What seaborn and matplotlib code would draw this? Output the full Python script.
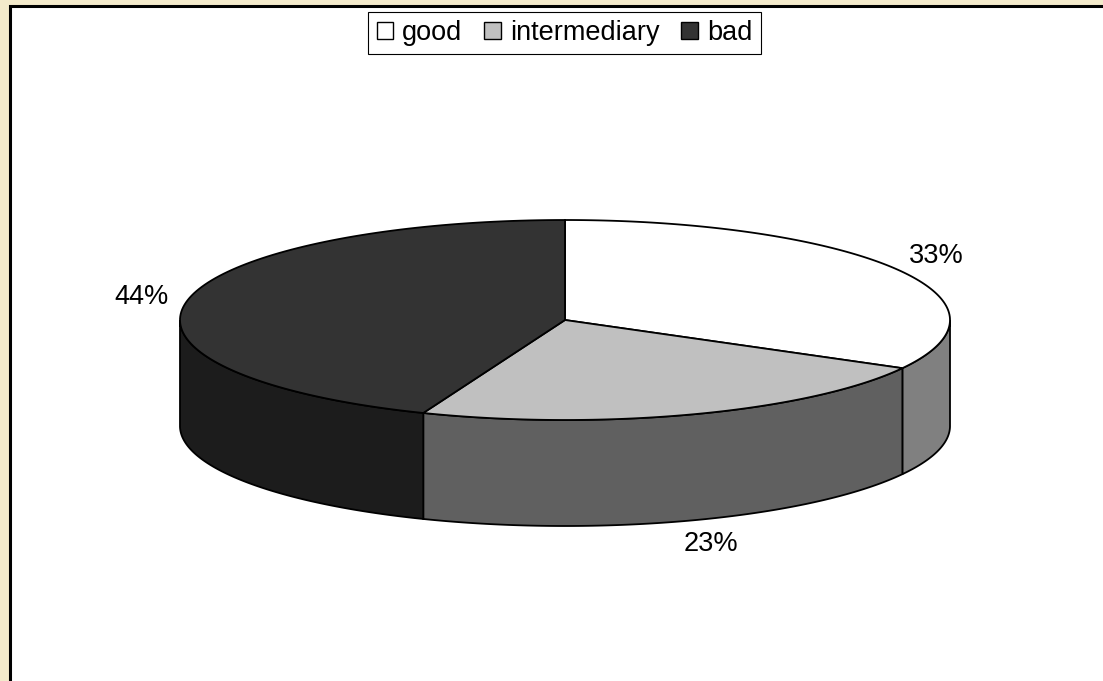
import numpy as np
import matplotlib
matplotlib.use("Agg")
import matplotlib.pyplot as plt
from matplotlib.patches import Polygon, Rectangle, Patch
import seaborn as sns

# ── Data ──────────────────────────────────────────────────────────────────────
LABELS = ["good", "intermediary", "bad"]
SHARES = [33, 23, 44]
TOP_COLORS = ["#ffffff", "#c0c0c0", "#333333"]
SIDE_COLORS = ["#808080", "#606060", "#1c1c1c"]

# ── Layout (pixels) ───────────────────────────────────────────────────────────
W, H = 1103, 681
CX, CY = 565, 320      # centre of the top face
RX, RY = 385, 100      # ellipse semi-axes
DEPTH = 106            # height of the pie wall
START = 90             # first slice starts at 12 o'clock, goes clockwise
FS = 19.5

sns.set_theme(style="white")
plt.rcParams["font.family"] = ["Liberation Sans", "DejaVu Sans"]
plt.rcParams["text.color"] = "black"

fig = plt.figure(figsize=(W / 100, H / 100), dpi=100, facecolor="#f3eacb")
ax = fig.add_axes([0, 0, 1, 1])
ax.set_xlim(0, W)
ax.set_ylim(H, 0)
ax.axis("off")

# chart area frame
ax.add_patch(Rectangle((9.5, 5.5), W + 20, H + 20, facecolor="white",
                       edgecolor="black", lw=2.2, zorder=0))


def arc(a0, a1, dz=0, n=120):
    t = np.radians(np.linspace(a0, a1, n))
    return np.column_stack([CX + RX * np.cos(t), CY - RY * np.sin(t) + dz])


fracs = np.array(SHARES) / sum(SHARES)
ends = START - 360 * np.cumsum(fracs)
starts = ends + 360 * fracs

# ── Walls (front half only) ───────────────────────────────────────────────────
for e, s, col in zip(ends, starts, SIDE_COLORS):
    for k in (-1, 0, 1):
        lo, hi = max(e, -180 + 360 * k), min(s, 360 * k)
        if hi <= lo:
            continue
        pts = np.vstack([arc(lo, hi), arc(hi, lo, DEPTH)])
        ax.add_patch(Polygon(pts, closed=True, facecolor=col,
                             edgecolor="black", lw=1.3, zorder=2))

# ── Top face ──────────────────────────────────────────────────────────────────
for e, s, col in zip(ends, starts, TOP_COLORS):
    pts = np.vstack([[CX, CY], arc(e, s)])
    ax.add_patch(Polygon(pts, closed=True, facecolor=col,
                         edgecolor="black", lw=1.3, zorder=3))

# ── Percent labels ────────────────────────────────────────────────────────────
for e, s, share in zip(ends, starts, SHARES):
    m = np.radians((e + s) / 2)
    x = CX + 1.12 * RX * np.cos(m)
    y = CY - 1.25 * RY * np.sin(m) + (DEPTH if np.sin(m) < 0 else 0)
    ax.text(x, y, f"{share}%", ha="center", va="center", fontsize=FS,
            color="black", zorder=4)

# ── Legend ────────────────────────────────────────────────────────────────────
handles = [Patch(facecolor=c, edgecolor="black", lw=1) for c in TOP_COLORS]
leg = fig.legend(handles, LABELS, loc="upper center",
                 bbox_to_anchor=(564.5 / W, 1 - 12 / H), ncol=3, fontsize=FS,
                 frameon=True, fancybox=False, edgecolor="black", framealpha=1,
                 handlelength=0.6, handleheight=0.6, handletextpad=0.35,
                 columnspacing=0.8, borderpad=0.3, borderaxespad=0)
leg.get_frame().set_linewidth(0.8)
for t in leg.get_texts():
    t.set_color("black")

fig.savefig("out.png", dpi=100, facecolor=fig.get_facecolor())
